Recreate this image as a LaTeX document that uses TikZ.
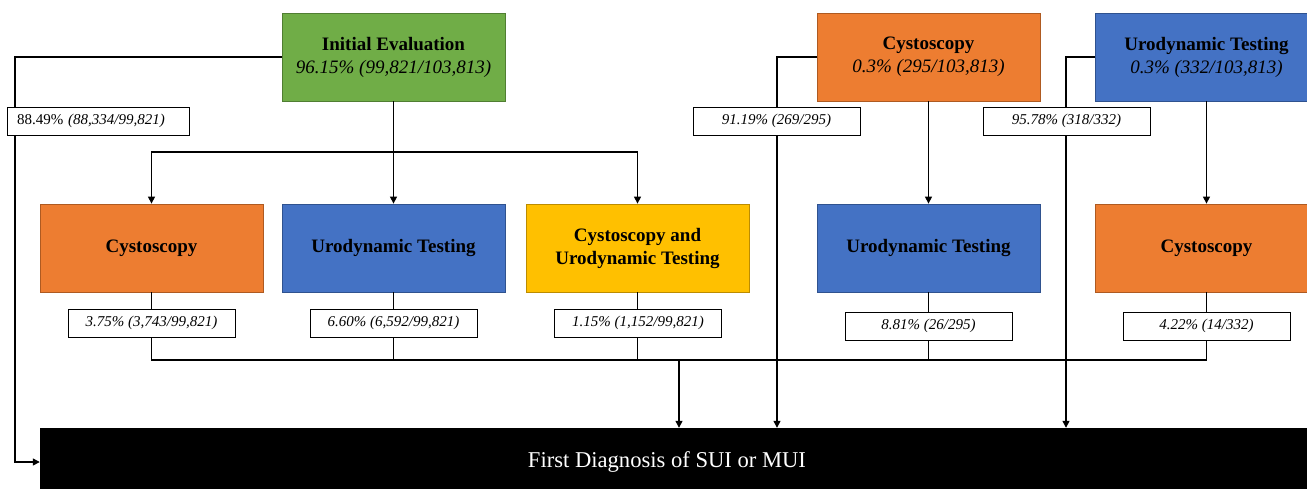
\documentclass[tikz,border=0pt]{standalone}
\usepackage{fontspec}
\setmainfont{Liberation Serif}
\usetikzlibrary{arrows.meta}

\definecolor{evalgreen}{HTML}{70AD47}
\definecolor{evalgreenline}{HTML}{507E32}
\definecolor{cystoorange}{HTML}{ED7D31}
\definecolor{cystoorangeline}{HTML}{AE5A21}
\definecolor{udtblue}{HTML}{4472C4}
\definecolor{udtblueline}{HTML}{2F528F}
\definecolor{bothyellow}{HTML}{FFC000}
\definecolor{bothyellowline}{HTML}{BC8C00}

\begin{document}
\begin{tikzpicture}[x=1pt, y=-1pt,
    stagebox/.style={minimum width=223pt, minimum height=88pt, inner sep=0pt, align=center, line width=0.8pt,
        font=\fontsize{19}{23}\selectfont},
    evalbox/.style={stagebox, fill=evalgreen, draw=evalgreenline},
    cystobox/.style={stagebox, fill=cystoorange, draw=cystoorangeline},
    udtbox/.style={stagebox, fill=udtblue, draw=udtblueline},
    bothbox/.style={stagebox, fill=bothyellow, draw=bothyellowline},
    ratiobox/.style={draw, fill=white, line width=0.8pt, minimum width=167pt, minimum height=28pt, inner sep=0pt,
        font=\fontsize{15}{18}\selectfont\itshape},
    wire/.style={line width=1.3pt},
    arr/.style={wire, -{Triangle[width=7pt,length=7pt]}}]
\useasboundingbox (0,0) rectangle (1307,488);

\node[evalbox] (init) at (393.5,57) {\textbf{Initial Evaluation}\\\textit{96.15\% (99,821/103,813)}};
\node[cystobox] (cysT) at (928.5,57) {\textbf{Cystoscopy}\\\textit{0.3\% (295/103,813)}};
\node[udtbox] (udtT) at (1206.5,57) {\textbf{Urodynamic Testing}\\\textit{0.3\% (332/103,813)}};

\node[cystobox] (cysM) at (151.5,248) {\textbf{Cystoscopy}};
\node[udtbox] (udtM) at (393.5,248) {\textbf{Urodynamic Testing}};
\node[bothbox] (bothM) at (637.5,248) {\textbf{Cystoscopy and}\\\textbf{Urodynamic Testing}};
\node[udtbox] (udtR) at (928.5,248) {\textbf{Urodynamic Testing}};
\node[cystobox] (cysR) at (1206.5,248) {\textbf{Cystoscopy}};

\node[fill=black, minimum width=1278pt, minimum height=68pt, inner sep=0pt, text=white,
    font=\fontsize{22.6}{26}\selectfont] (dx) at (679,462) {\hspace*{-24pt}First Diagnosis of SUI or MUI};

\coordinate (leftrail) at (15,300);
\coordinate (railC) at (777,250);
\coordinate (railU) at (1066,250);
\coordinate (split) at (393.5,152);
\coordinate (merge) at (679,360);

% connectors
\draw[arr] (init.west) -| (leftrail) |- (dx.west);
\draw[arr] (cysT.west) -| (railC |- dx.north);
\draw[arr] (udtT.west) -| (railU |- dx.north);
\draw[arr] (cysT.south) -- (udtR.north);
\draw[arr] (udtT.south) -- (cysR.north);
\draw[wire, line width=1.8pt] (init.south) -- (split);
\foreach \n in {cysM, udtM, bothM}
    \draw[arr] (split) -| (\n.north);
\foreach \n in {cysM, udtM, bothM, udtR, cysR}
    \draw[wire] (\n.south) |- (merge);
\draw[arr] (merge) -- (merge |- dx.north);

% ratios
\node[ratiobox, minimum width=182pt, text width=162pt, inner xsep=10pt, align=left] (rInit) at (98,121)
    {\upshape 88.49\% \itshape (88,334/99,821)};
\node[ratiobox] (rCysT) at (776.5,121) {91.19\% (269/295)};
\node[ratiobox] (rUdtT) at (1066.5,121) {95.78\% (318/332)};
\node[ratiobox] (rCysM) at (151.5,323) {3.75\% (3,743/99,821)};
\node[ratiobox] (rUdtM) at (393.5,323) {6.60\% (6,592/99,821)};
\node[ratiobox] (rBothM) at (638,323) {1.15\% (1,152/99,821)};
\node[ratiobox] (rUdtR) at (928.5,326) {8.81\% (26/295)};
\node[ratiobox] (rCysR) at (1206.5,326) {4.22\% (14/332)};
\end{tikzpicture}
\end{document}
